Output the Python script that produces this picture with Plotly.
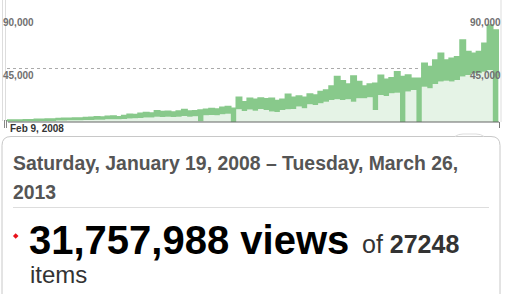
import pandas as pd
import plotly.graph_objects as go

W, H = 509, 294

# --- data (thousands of views), sampled every 21 days from 2008-01-19 ---
start_date = "2008-01-19"
end_date = "2013-03-26"
upper_k = [1.9, 1.9, 1.9, 2.2, 2.2, 2.5, 2.5, 2.8, 2.8, 3.1,
           3.3, 3.3, 3.6, 3.6, 3.9, 4.2, 4.7, 4.4, 5.0, 5.3,
           4.7, 5.6, 6.7, 6.4, 7.5, 8.1, 7.8, 9.7, 8.9, 9.2,
           8.6, 9.4, 10.6, 9.4, 9.7, 10.3, 10.8, 11.4, 11.1, 12.5,
           13.1, 11.7, 20.8, 17.2, 20.0, 19.2, 20.3, 19.7, 20.0, 18.1,
           19.2, 23.3, 20.8, 21.9, 20.8, 23.6, 22.8, 25.6, 26.9, 30.3,
           38.1, 34.7, 31.9, 38.6, 33.9, 30.3, 31.9, 32.5, 39.2, 35.8,
           37.2, 42.2, 38.1, 39.4, 36.7, 36.7, 49.2, 46.4, 51.9, 57.5,
           51.9, 53.3, 54.7, 68.6, 58.9, 57.5, 58.9, 65.8, 81.1, 76.9,
           76.9, 76.9]
lower_k = [0.6, 0.6, 0.6, 0.8, 0.8, 0.8, 1.1, 1.1, 1.1, 1.4,
           1.4, 1.7, 1.7, 1.7, 1.9, 1.9, 2.2, 2.2, 2.5, 2.5,
           2.5, 2.8, 3.1, 3.3, 3.6, 3.9, 3.9, 4.7, 4.4, 4.7,
           4.4, 4.7, 5.3, 4.7, 5.0, 0.8, 5.8, 6.1, 5.8, 6.7,
           7.2, 0.0, 10.8, 9.4, 10.6, 9.7, 11.1, 10.3, 8.9, 8.6,
           10.3, 10.8, 11.1, 13.1, 11.7, 15.0, 14.4, 15.8, 17.2, 18.6,
           19.2, 18.6, 19.2, 17.2, 20.0, 20.0, 20.8, 10.3, 22.8, 21.9,
           24.2, 24.7, 0.0, 25.6, 26.9, 0.0, 29.7, 28.3, 31.9, 33.9,
           34.7, 33.9, 35.3, 38.1, 39.4, 40.8, 40.8, 42.2, 43.6, 0.0,
           38.1, 38.1]

dates = list(pd.date_range(start_date, periods=len(upper_k) - 1, freq="21D")) + [pd.Timestamp(end_date)]
upper = [v * 1000 for v in upper_k]
lower = [v * 1000 for v in lower_k]

y_ticks = [45000, 90000]
y_tick_text = ["45,000", "90,000"]

DARK = "rgb(136,201,139)"
LIGHT = "rgba(136,201,139,0.22)"
FONT = "Liberation Sans, Arial, sans-serif"


def X(px):
    return px / W


def Y(py):
    return 1 - py / H


fig = go.Figure()
fig.add_trace(go.Scatter(x=dates, y=lower, mode="lines", line=dict(width=0, shape="hv", color=DARK),
                         fill="tozeroy", fillcolor=LIGHT, hoverinfo="skip"))
fig.add_trace(go.Scatter(x=dates, y=upper, mode="lines", line=dict(width=1.5, shape="hv", color=DARK),
                         fill="tonexty", fillcolor=DARK, hoverinfo="skip"))

base_py = 122.3
top_py = 14.3
fig.update_layout(
    width=W, height=H, margin=dict(l=0, r=0, t=0, b=0),
    paper_bgcolor="white", plot_bgcolor="white", showlegend=False,
    xaxis=dict(domain=[X(7), X(499)], range=[start_date, end_date], visible=False),
    yaxis=dict(domain=[Y(base_py), Y(top_py)], range=[0, 90000], tickvals=[45000],
               showticklabels=False, showgrid=True, gridcolor="#aaaaaa", griddash="dot",
               gridwidth=1, zeroline=False, showline=False),
)

shapes = []
# baseline
shapes.append(dict(type="line", xref="paper", yref="paper", x0=X(8), x1=X(499), y0=Y(122), y1=Y(122),
                   line=dict(color="#666666", width=1)))
# left handle lines
for xp in (2.5, 5.5):
    shapes.append(dict(type="line", xref="paper", yref="paper", x0=X(xp), x1=X(xp), y0=Y(0), y1=Y(121),
                       line=dict(color="#dddddd", width=1)))
for xp in (4.5, 6.5):
    shapes.append(dict(type="line", xref="paper", yref="paper", x0=X(xp), x1=X(xp), y0=Y(120), y1=Y(128),
                       line=dict(color="#888888", width=1)))
# right edge lines
shapes.append(dict(type="line", xref="paper", yref="paper", x0=X(501), x1=X(501), y0=Y(0), y1=Y(122),
                   line=dict(color="#dddddd", width=1)))
shapes.append(dict(type="line", xref="paper", yref="paper", x0=X(499.5), x1=X(499.5), y0=Y(122), y1=Y(128),
                   line=dict(color="#777777", width=1)))

# rounded box
x0b, x1b, y0b, y1b, r = 2, 500, 136.5, 310, 9
path = (f"M {X(x0b)},{Y(y1b)} L {X(x0b)},{Y(y0b + r)} Q {X(x0b)},{Y(y0b)} {X(x0b + r)},{Y(y0b)} "
        f"L {X(x1b - r)},{Y(y0b)} Q {X(x1b)},{Y(y0b)} {X(x1b)},{Y(y0b + r)} L {X(x1b)},{Y(y1b)}")
shapes.append(dict(type="path", xref="paper", yref="paper", path=path, line=dict(color="#c8c8c8", width=1)))
# small tab at top-right
tab = (f"M {X(455)},{Y(136.5)} Q {X(458)},{Y(134)} {X(463)},{Y(134)} L {X(476)},{Y(134)} "
       f"Q {X(481)},{Y(134)} {X(484)},{Y(136.5)}")
shapes.append(dict(type="path", xref="paper", yref="paper", path=tab, line=dict(color="#dddddd", width=1)))
# separator
shapes.append(dict(type="line", xref="paper", yref="paper", x0=X(13), x1=X(489), y0=Y(207.5), y1=Y(207.5),
                   line=dict(color="#dddddd", width=1)))
# red diamond
cx, cy, s = 15.7, 236, 2.8
dpath = f"M {X(cx)},{Y(cy - s)} L {X(cx + s)},{Y(cy)} L {X(cx)},{Y(cy + s)} L {X(cx - s)},{Y(cy)} Z"
shapes.append(dict(type="path", xref="paper", yref="paper", path=dpath, fillcolor="#e8121b",
                   line=dict(color="#e8121b", width=0)))
fig.update_layout(shapes=shapes)


def ann(text, xp, yp, size, color, anchor="left", weight="normal"):
    fig.add_annotation(text=text, x=X(xp), y=Y(yp), xref="paper", yref="paper", xanchor=anchor,
                       yanchor="middle", showarrow=False, borderpad=0, borderwidth=0,
                       font=dict(family=FONT, size=size, color=color, weight=weight))


label_py = {90000: 23, 45000: 75.8}
for v, t in zip(y_ticks, y_tick_text):
    ann(t, 2.5, label_py[v], 10, "#707070", "left", "bold")
    ann(t, 501, label_py[v], 10, "#707070", "right", "bold")

ann("Feb 9, 2008", 10, 128.8, 10, "#333333", "left", "bold")
ann("Saturday, January 19, 2008 – Tuesday, March 26,", 13, 162.5, 19.4, "#555555", "left", "bold")
ann("2013", 13, 192, 19.4, "#555555", "left", "bold")
ann("31,757,988 views", 29, 240, 40, "#000000", "left", "bold")
ann("of <b>27248</b>", 362, 244.2, 25, "#333333", "left")
ann("items", 30, 274.7, 24, "#333333", "left")

fig.write_html("out.html", config={"displayModeBar": False})
